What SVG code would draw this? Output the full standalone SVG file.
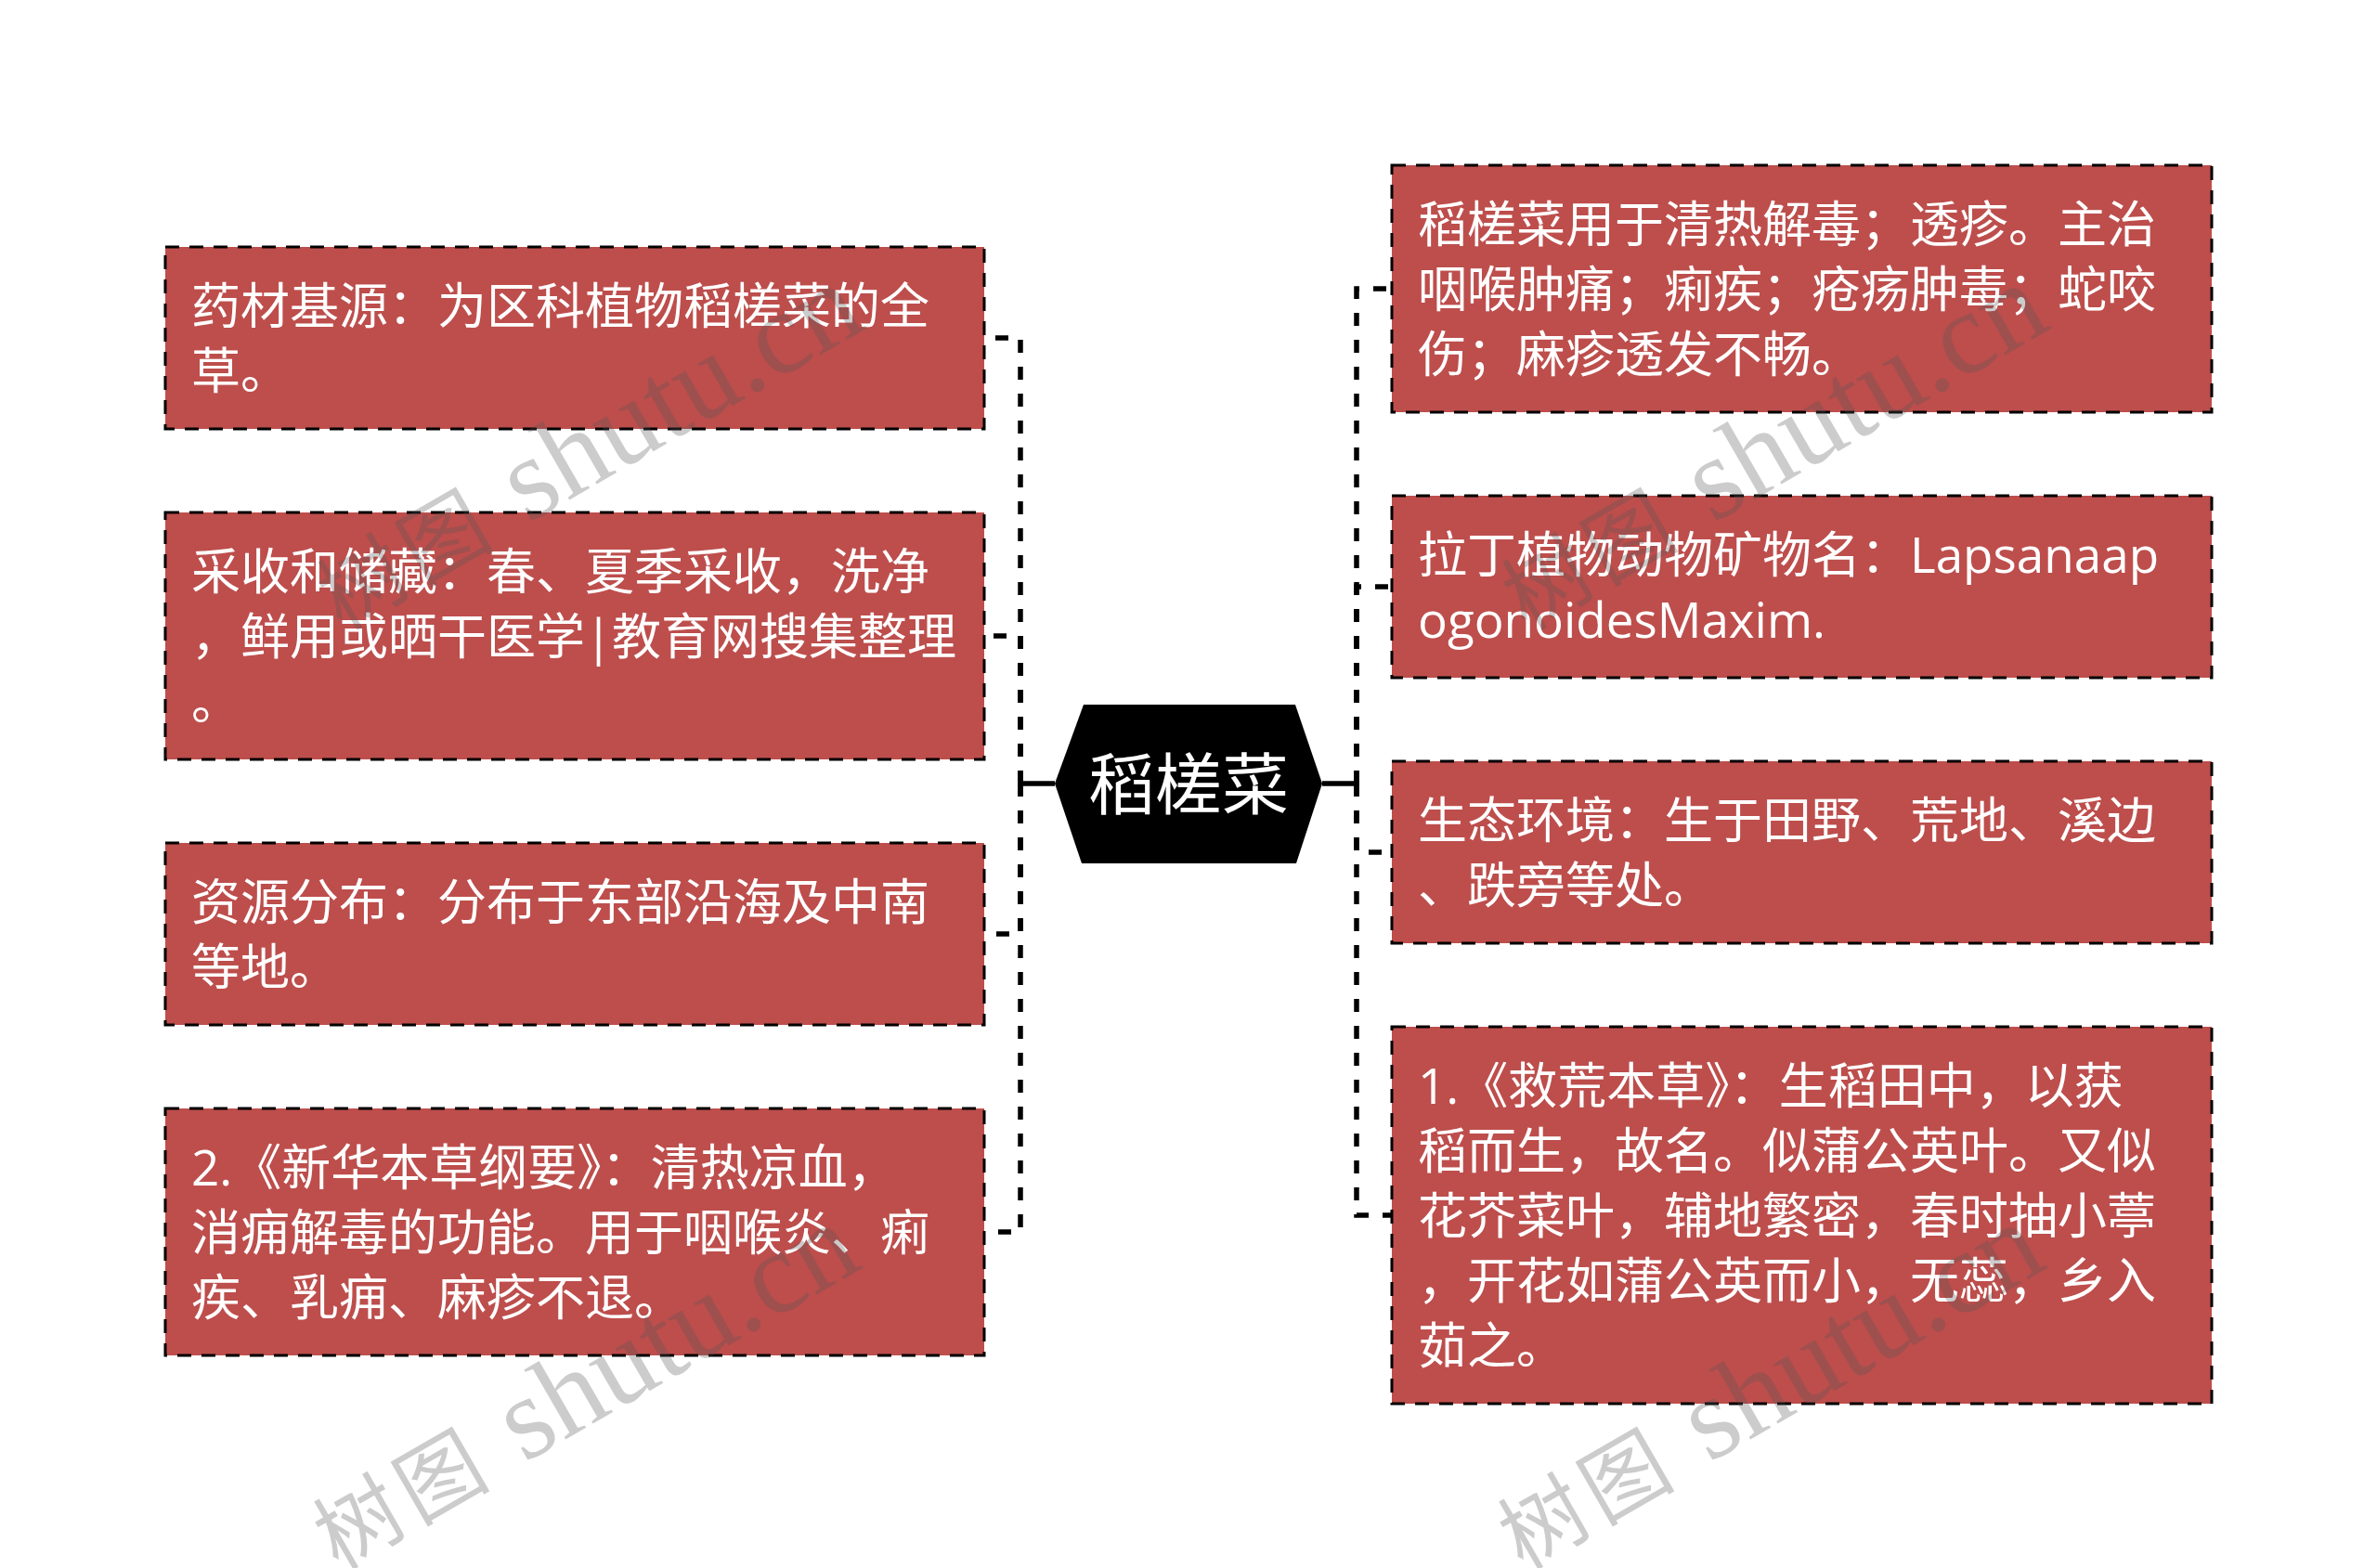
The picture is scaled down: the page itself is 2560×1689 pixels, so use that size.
<svg xmlns="http://www.w3.org/2000/svg" width="2560" height="1689" viewBox="0 0 2560 1689">
<defs>
<style>
.box{fill:#BD4E4C;stroke:#000;stroke-width:3;stroke-dasharray:15 11;}
.t{font-family:"Open Sans","Noto Sans CJK SC",sans-serif;font-size:53px;fill:#fff;}
.conn{fill:none;stroke:#000;stroke-width:5.5;stroke-dasharray:14 15;}
.solid{fill:none;stroke:#000;stroke-width:5.5;}
.wm{font-family:"Liberation Serif","Noto Sans CJK SC",serif;fill:#555;fill-opacity:0.3;}
.wc{font-size:92px;letter-spacing:8px;}
.wl{font-size:126px;}
</style>
</defs>
<rect width="2560" height="1689" fill="#fff"/>
<g id="connectors">
<path class="solid" d="M1136 844H1099"/>
<path class="solid" d="M1424 844H1461"/>
<path class="conn" d="M1099 844V364H1060"/>
<path class="conn" d="M1099 844V685H1060"/>
<path class="conn" d="M1099 844V1006H1060"/>
<path class="conn" d="M1099 844V1327H1060"/>
<path class="conn" d="M1461 844V311H1499"/>
<path class="conn" d="M1461 844V632H1499"/>
<path class="conn" d="M1461 844V918H1499"/>
<path class="conn" d="M1461 844V1309H1499"/>
</g>
<g id="center">
<polygon points="1136,844 1167,759 1395,759 1424,844 1396,930 1165,930" fill="#000"/>
<text x="1280" y="871" text-anchor="middle" font-family="Noto Sans CJK SC, sans-serif" font-size="72" fill="#fff">稻槎菜</text>
</g>
<g id="node-l1">
<rect class="box" x="178" y="266" width="882" height="196"/>
<text class="t"><tspan x="206" y="349">药材基源：为区科植物稻槎菜的全</tspan><tspan x="206" y="419">草。</tspan></text>
</g>
<g id="node-l2">
<rect class="box" x="178" y="552" width="882" height="266"/>
<text class="t"><tspan x="206" y="635">采收和储藏：春、夏季采收，洗净</tspan><tspan x="206" y="705">，鲜用或晒干医学|教育网搜集整理</tspan><tspan x="206" y="775">。</tspan></text>
</g>
<g id="node-l3">
<rect class="box" x="178" y="908" width="882" height="196"/>
<text class="t"><tspan x="206" y="991">资源分布：分布于东部沿海及中南</tspan><tspan x="206" y="1061">等地。</tspan></text>
</g>
<g id="node-l4">
<rect class="box" x="178" y="1194" width="882" height="266"/>
<text class="t"><tspan x="206" y="1277">2.《新华本草纲要》：清热凉血，</tspan><tspan x="206" y="1347">消痈解毒的功能。用于咽喉炎、痢</tspan><tspan x="206" y="1417">疾、乳痈、麻疹不退。</tspan></text>
</g>
<g id="node-r1">
<rect class="box" x="1499" y="178" width="883" height="266"/>
<text class="t"><tspan x="1527" y="261">稻槎菜用于清热解毒；透疹。主治</tspan><tspan x="1527" y="331">咽喉肿痛；痢疾；疮疡肿毒；蛇咬</tspan><tspan x="1527" y="401">伤；麻疹透发不畅。</tspan></text>
</g>
<g id="node-r2">
<rect class="box" x="1499" y="534" width="883" height="196"/>
<text class="t"><tspan x="1527" y="617">拉丁植物动物矿物名：Lapsanaap</tspan><tspan x="1527" y="687">ogonoidesMaxim.</tspan></text>
</g>
<g id="node-r3">
<rect class="box" x="1499" y="820" width="883" height="196"/>
<text class="t"><tspan x="1527" y="903">生态环境：生于田野、荒地、溪边</tspan><tspan x="1527" y="973">、跌旁等处。</tspan></text>
</g>
<g id="node-r4">
<rect class="box" x="1499" y="1106" width="883" height="406"/>
<text class="t"><tspan x="1527" y="1189">1.《救荒本草》：生稻田中，以获</tspan><tspan x="1527" y="1259">稻而生，故名。似蒲公英叶。又似</tspan><tspan x="1527" y="1329">花芥菜叶，辅地繁密，春时抽小葶</tspan><tspan x="1527" y="1399">，开花如蒲公英而小，无蕊，乡入</tspan><tspan x="1527" y="1469">茹之。</tspan></text>
</g>
<g id="watermarks">
<text class="wm" transform="translate(368,680) rotate(-30)"><tspan class="wc">树图</tspan><tspan class="wl"> shutu.cn</tspan></text>
<text class="wm" transform="translate(1644,680) rotate(-30)"><tspan class="wc">树图</tspan><tspan class="wl"> shutu.cn</tspan></text>
<text class="wm" transform="translate(364,1692) rotate(-30)"><tspan class="wc">树图</tspan><tspan class="wl"> shutu.cn</tspan></text>
<text class="wm" transform="translate(1640,1692) rotate(-30)"><tspan class="wc">树图</tspan><tspan class="wl"> shutu.cn</tspan></text>
</g>
</svg>
